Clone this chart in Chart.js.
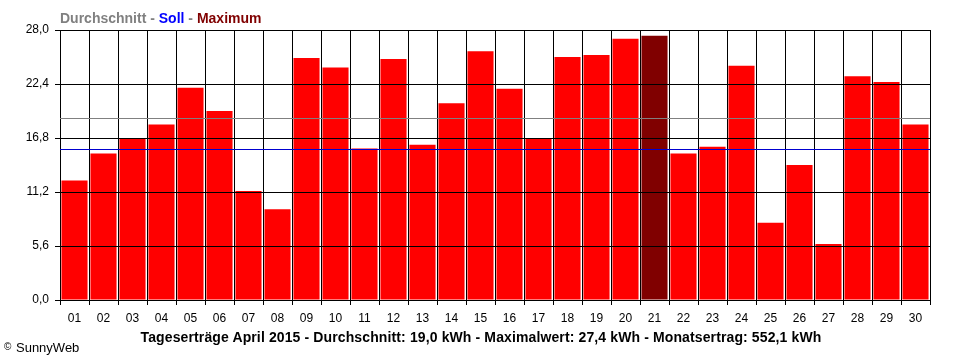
<!DOCTYPE html>
<html>
<head>
<meta charset="utf-8">
<script src="https://cdn.jsdelivr.net/npm/chart.js@4/dist/chart.umd.min.js"></script>
<style>
  html, body { margin: 0; padding: 0; background: #fff; }
  #wrap { position: relative; width: 960px; height: 360px; overflow: hidden; }
  #c { position: absolute; left: 0; top: 0; }
  .txt { position: absolute; white-space: nowrap; font-family: 'Liberation Sans', Arial, sans-serif; }
  #legend { left: 60px; top: 11px; font-size: 14px; line-height: 14px; font-weight: bold; color: #808080; }
  #title { left: 0; width: 962px; text-align: center; top: 331px; font-size: 14px; line-height: 13px; font-weight: bold; letter-spacing: 0.12px; color: #000; }
  #copy { left: 4px; top: 340px; font-size: 13px; line-height: 13px; color: #000; }
  #copy .c { font-size: 10px; vertical-align: 2px; margin-right: 1px; }
</style>
</head>
<body>
<div id="wrap">
  <canvas id="c" width="960" height="360"></canvas>
  <div class="txt" id="legend">Durchschnitt - <span style="color:#0000ff">Soll</span> - <span style="color:#800000">Maximum</span></div>
  <div class="txt" id="title">Tageserträge April 2015 - Durchschnitt: 19,0 kWh - Maximalwert: 27,4 kWh - Monatsertrag: 552,1 kWh</div>
  <div class="txt" id="copy"><span class="c">©</span> SunnyWeb</div>
</div>
<script>
const days = ['01','02','03','04','05','06','07','08','09','10','11','12','13','14','15','16','17','18','19','20','21','22','23','24','25','26','27','28','29','30'];
const dailyYield = [12.4, 15.2, 16.8, 18.2, 22.0, 19.6, 11.3, 9.4, 25.1, 24.1, 15.7, 25.0, 16.1, 20.4, 25.8, 21.9, 16.8, 25.2, 25.4, 27.1, 27.4, 15.2, 15.9, 24.3, 8.0, 14.0, 5.8, 23.2, 22.6, 18.2];
const averageValue = 18.9;
const targetValue = 15.7;
const yTickValues = [0, 5.6, 11.2, 16.8, 22.4, 28.0];

const maxVal = Math.max(...dailyYield);
const barColors = dailyYield.map(v => v === maxVal ? '#800000' : '#ff0000');

const refLines = {
  id: 'refLines',
  afterDraw(chart) {
    const { ctx, chartArea: a, scales: { y } } = chart;
    [[averageValue, '#808080'], [targetValue, '#0000d0']].forEach(([v, col]) => {
      const py = Math.round(y.getPixelForValue(v)) + 0.5;
      ctx.save();
      ctx.strokeStyle = col;
      ctx.lineWidth = 1;
      ctx.beginPath();
      ctx.moveTo(a.left, py);
      ctx.lineTo(a.right, py);
      ctx.stroke();
      ctx.restore();
    });
  }
};

const tickFont = { family: "'Liberation Sans', Arial, sans-serif", size: 12 };

new Chart(document.getElementById('c'), {
  type: 'bar',
  data: {
    labels: days,
    datasets: [{
      data: dailyYield,
      backgroundColor: barColors,
      borderWidth: 0,
      barPercentage: 0.9,
      categoryPercentage: 1.0
    }]
  },
  options: {
    responsive: false,
    animation: false,
    devicePixelRatio: 1,
    layout: { padding: { top: 30, right: 30, left: 0, bottom: 0 } },
    plugins: { legend: { display: false }, tooltip: { enabled: false }, title: { display: false } },
    scales: {
      x: {
        offset: true,
        grid: { offset: true, color: '#000', lineWidth: 1, tickLength: 5, drawTicks: true, z: 1 },
        border: { display: false },
        ticks: { color: '#000', font: tickFont, padding: 6, maxRotation: 0, autoSkip: false },
        afterFit(s) { s.height = 60; }
      },
      y: {
        min: 0,
        max: 28,
        afterBuildTicks(s) { s.ticks = yTickValues.map(v => ({ value: v })); },
        grid: { color: '#000', lineWidth: 1, tickLength: 5, drawTicks: true, z: 1 },
        border: { display: false },
        ticks: {
          color: '#000', font: tickFont, padding: 6,
          callback: v => Number(v).toFixed(1).replace('.', ',')
        },
        afterFit(s) { s.width = 60; }
      }
    }
  },
  plugins: [refLines]
});
</script>
</body>
</html>
